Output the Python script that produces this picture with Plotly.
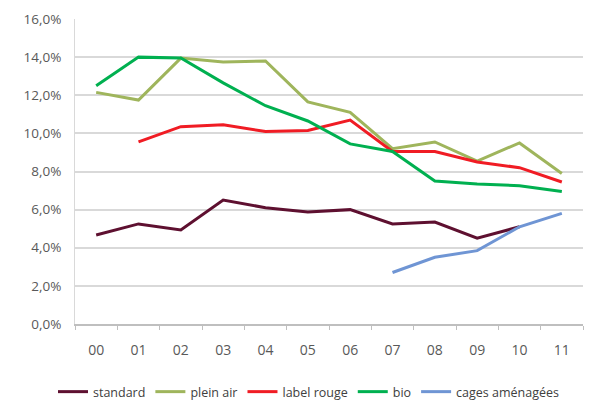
import plotly.graph_objects as go

years = ["00", "01", "02", "03", "04", "05", "06", "07", "08", "09", "10", "11"]
standard = [4.67, 5.25, 4.93, 6.5, 6.1, 5.88, 6.0, 5.25, 5.35, 4.5, 5.1, None]
plein_air = [12.15, 11.75, 13.95, 13.75, 13.8, 11.65, 11.1, 9.2, 9.55, 8.55, 9.5, 7.9]
label_rouge = [None, 9.55, 10.35, 10.45, 10.1, 10.15, 10.7, 9.05, 9.05, 8.5, 8.2, 7.45]
bio = [12.5, 14.0, 13.95, 12.65, 11.45, 10.65, 9.45, 9.05, 7.5, 7.35, 7.25, 6.95]
cages = [None, None, None, None, None, None, None, 2.7, 3.5, 3.85, 5.1, 5.8]

series = [
    ("standard", standard, "#5e1030"),
    ("plein air", plein_air, "#9fb55c"),
    ("label rouge", label_rouge, "#f01c24"),
    ("bio", bio, "#00b050"),
    ("cages aménagées", cages, "#6f95d4"),
]

fig = go.Figure()
for name, vals, col in series:
    fig.add_trace(go.Scatter(x=years, y=vals, name=name, mode="lines",
                             line=dict(color=col, width=3), connectgaps=False))

# page body adds an 8px offset, so the figure is sized to 602x395
fig.update_layout(
    width=602, height=395,
    margin=dict(l=67, r=27, t=11, b=79, autoexpand=False),
    paper_bgcolor="white", plot_bgcolor="white",
    separators=",.",
    font=dict(family="Open Sans", size=13, color="#595959"),
    showlegend=True,
    legend=dict(orientation="h", xref="container", x=0.5, xanchor="center",
                y=-0.223, yanchor="middle",
                font=dict(size=12.5, color="#404040"), tracegroupgap=0),
)
fig.update_xaxes(type="category", range=[-0.5, 11.5], showgrid=False, showline=True,
                 linecolor="#bfbfbf", linewidth=1.5, ticks="outside", tickson="boundaries",
                 ticklen=4, tickcolor="#bfbfbf", ticklabelstandoff=12,
                 tickfont=dict(size=14, color="#595959"))
fig.update_yaxes(range=[0, 16], dtick=2, tickformat=".1f", ticksuffix="%",
                 showgrid=True, gridcolor="#d9d9d9", gridwidth=1.5,
                 showline=True, linecolor="#d9d9d9", zeroline=False,
                 ticks="", ticklabelstandoff=10, tickfont=dict(size=13.5, color="#595959"))

fig.write_html("out.html")
